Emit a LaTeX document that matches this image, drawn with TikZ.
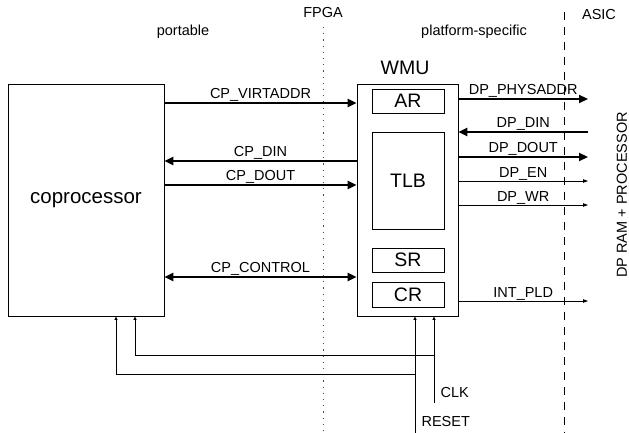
\documentclass[tikz,border=0pt]{standalone}
\usepackage{fontspec}
\setmainfont{Liberation Sans}
\usetikzlibrary{arrows.meta}
\tikzset{
  blk/.style={draw,line width=0.8pt,minimum width=72pt,inner sep=0pt,font=\fontsize{19.5}{22}\selectfont},
  bus/.style={line width=2.6pt,-{Triangle[length=9pt,width=8pt]}},
  sig/.style={line width=0.8pt,-{Triangle[length=5pt,width=3.5pt]}},
  ctl/.style={line width=0.7pt,-{Triangle[length=3.5pt,width=3pt]}},
  lbl/.style={above=3.5pt,inner sep=0pt,text depth=0pt}
}

\begin{document}
\begin{tikzpicture}[x=1pt,y=-1pt,font=\fontsize{14.5}{16}\selectfont]
  \useasboundingbox (0,0) rectangle (629,433);

  \node[blk,minimum width=156pt,minimum height=232pt,font=\fontsize{20.5}{24}\selectfont] (cop) at (86,200) {coprocessor};
  \node[blk,minimum width=101pt,minimum height=232pt] (wmu) at (407.5,200) {};
  \node[blk,minimum height=24pt] (ar)  at (408,101)   {AR};
  \node[blk,minimum height=97pt] (tlb) at (408,180.5) {TLB};
  \node[blk,minimum height=24pt] (sr)  at (408,260)   {SR};
  \node[blk,minimum height=25pt] (cr)  at (408,294.5) {CR};

  \node[font=\fontsize{19.5}{22}\selectfont] (wmulbl) at (405,68) {WMU};
  \node (fpga) at (323,13) {FPGA};
  \node (asic) at (599,15) {ASIC};
  \node (port) at (183,32) {portable};
  \node (plat) at (474,32) {platform-specific};
  \node[rotate=90] (dpram) at (622,195) {DP RAM + PROCESSOR};
  \node[anchor=west] (clk) at (437,393) {CLK};
  \node[anchor=west] (rst) at (418,422) {RESET};

  \coordinate (ram) at (588,0);
  \coordinate (clkin) at (434,403);
  \coordinate (rstin) at (415,433);

  \draw[black!70,line width=1pt,dash pattern=on 1.2pt off 5pt] (323,27) -- (323,433);
  \draw[line width=0.8pt,dash pattern=on 8pt off 7pt] (564,12) -- (564,433);

  \draw[bus] (cop.east |- 0,103) -- node[lbl] {CP\_VIRTADDR} (wmu.west |- 0,103);
  \draw[bus] (wmu.west |- 0,161) -- node[lbl] {CP\_DIN} (cop.east |- 0,161);
  \draw[bus] (cop.east |- 0,185) -- node[lbl] {CP\_DOUT} (wmu.west |- 0,185);
  \draw[bus,{Triangle[length=9pt,width=8pt]}-{Triangle[length=9pt,width=8pt]}] (cop.east |- 0,277) -- node[lbl] {CP\_CONTROL} (wmu.west |- 0,277);

  \draw[bus] (wmu.east |- 0,99) -- node[lbl] {DP\_PHYSADDR} (ram |- 0,99);
  \draw[bus] (ram |- 0,132) -- node[lbl] {DP\_DIN} (wmu.east |- 0,132);
  \draw[bus] (wmu.east |- 0,157) -- node[lbl] {DP\_DOUT} (ram |- 0,157);
  \draw[sig] (wmu.east |- 0,181) -- node[lbl] {DP\_EN} (ram |- 0,181);
  \draw[sig] (wmu.east |- 0,205) -- node[lbl] {DP\_WR} (ram |- 0,205);
  \draw[sig] (wmu.east |- 0,301) -- node[lbl] {INT\_PLD} (ram |- 0,301);

  \draw[ctl] (clkin) -- (wmu.south -| clkin);
  \draw[ctl] (rstin) -- (wmu.south -| rstin);
  \draw[ctl] (clkin |- 0,355) -| (cop.south -| 135,0);
  \draw[ctl] (rstin |- 0,374) -| (cop.south -| 116,0);
\end{tikzpicture}
\end{document}
